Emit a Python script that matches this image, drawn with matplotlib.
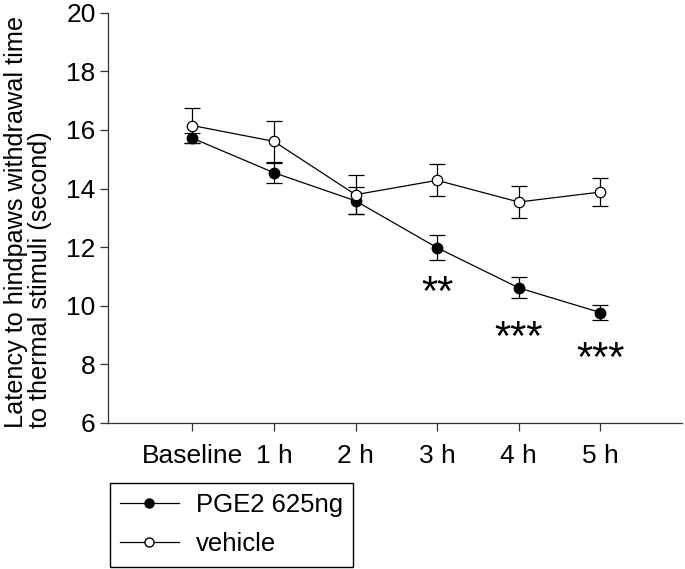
import matplotlib
matplotlib.use('Agg')
from matplotlib import pyplot as plt
from matplotlib.lines import Line2D

# data
time_labels = ['Baseline', '1 h', '2 h', '3 h', '4 h', '5 h']
pge2_mean = [15.72, 14.54, 13.58, 11.98, 10.61, 9.77]
pge2_sem = [0.18, 0.34, 0.46, 0.43, 0.36, 0.27]
vehicle_mean = [16.15, 15.61, 13.79, 14.28, 13.54, 13.88]
vehicle_sem = [0.59, 0.69, 0.66, 0.55, 0.55, 0.48]

# significance marks (time index, centre height, label)
sig_idx = [3, 4, 5]
sig_y = [10.65, 9.14, 8.40]
sig_text = ['**', '***', '***']

plt.rcParams['font.family'] = ['Liberation Sans', 'DejaVu Sans']

fig = plt.figure(figsize=(6.85, 5.69), dpi=100)
ax = fig.add_axes([0.158, 0.2566, 0.8376, 0.7211])

x = list(range(len(time_labels)))

ax.errorbar(x, pge2_mean, yerr=pge2_sem, color='black', linewidth=0.9,
            marker='o', markersize=7.5, markerfacecolor='black',
            markeredgecolor='black', ecolor='black', elinewidth=0.9,
            capsize=5.5, capthick=0.9, zorder=3)
ax.errorbar(x, vehicle_mean, yerr=vehicle_sem, color='black', linewidth=0.9,
            marker='o', markersize=7.5, markerfacecolor='white',
            markeredgecolor='black', markeredgewidth=0.9, ecolor='black',
            elinewidth=0.9, capsize=5.5, capthick=0.9, zorder=4)

for i, yv, s in zip(sig_idx, sig_y, sig_text):
    ax.annotate(s, (x[i], yv), xytext=(0, -13.5), textcoords='offset points',
                ha='center', va='baseline', fontsize=30)

ax.set_xlim(-1.03, 6.0)
ax.set_ylim(6, 20)
ax.set_yticks(range(6, 21, 2))
ax.set_xticks(x)
ax.set_xticklabels(time_labels)

for side in ['top', 'right']:
    ax.spines[side].set_visible(False)
for side in ['left', 'bottom']:
    ax.spines[side].set_linewidth(0.9)
    ax.spines[side].set_color('#333333')

ax.tick_params(axis='both', direction='out', length=6, width=0.9,
               labelsize=19, color='#333333')
ax.tick_params(axis='x', pad=9)
ax.tick_params(axis='y', pad=3)

ax.set_ylabel('Latency to hindpaws withdrawal time\nto thermal stimuli (second)',
              fontsize=18.2, labelpad=10, linespacing=1.0, multialignment='left')
ax.yaxis.label.set_y(0.49)

handles = [
    Line2D([], [], color='black', linewidth=0.9, marker='o', markersize=6.5,
           markerfacecolor='black', markeredgecolor='black'),
    Line2D([], [], color='black', linewidth=0.9, marker='o', markersize=6.5,
           markerfacecolor='white', markeredgecolor='black'),
]
fig.legend(handles, ['PGE2 625ng', 'vehicle'], loc='upper left',
           bbox_to_anchor=(0.160, 0.151), fontsize=18.5,
           frameon=True, fancybox=False, edgecolor='black', framealpha=1,
           handlelength=2.3, handletextpad=0.65, borderpad=0.4,
           borderaxespad=0, labelspacing=0.58)

fig.savefig('out.png', dpi=100)
